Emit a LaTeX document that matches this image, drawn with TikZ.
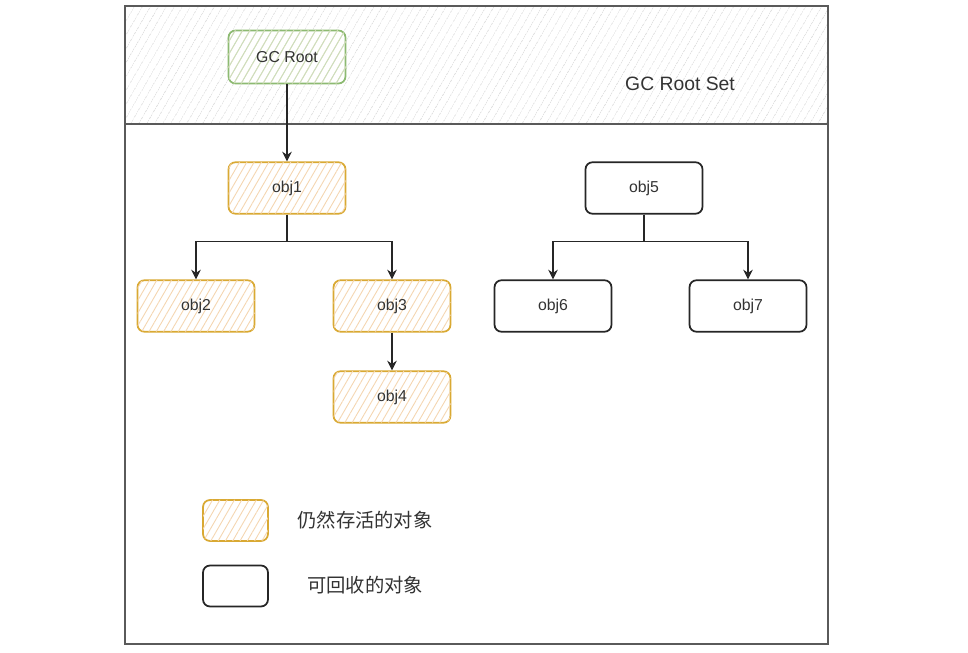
\documentclass[tikz,border=0pt]{standalone}
\usepackage{fontspec}
\setmainfont{Liberation Sans}
\newfontfamily\cjk{Noto Sans CJK SC}
\usepackage{tikz}
\usepackage{xcolor}
\usetikzlibrary{patterns.meta, positioning, arrows.meta}

\definecolor{liveline}{HTML}{D9A933}
\definecolor{livehatch}{HTML}{F5D6B0}
\definecolor{rootline}{HTML}{8DBA72}
\definecolor{roothatch}{HTML}{C8E0C0}
\definecolor{bandhatch}{HTML}{E0E0E0}
\definecolor{frameline}{HTML}{5A5A5A}
\definecolor{txt}{HTML}{333333}

\begin{document}
\begin{tikzpicture}[
        >={Stealth[length=5.5pt, width=5.5pt]},
        % Style for the objects that are still alive
        livebox/.style={rectangle, rounded corners=4pt, draw=liveline, line width=1pt,
            fill=white, postaction={pattern={Lines[angle=60, distance=3.6pt, line width=0.5pt]}, pattern color=livehatch},
            minimum width=2.34cm, minimum height=1.03cm, inner sep=0pt, text=txt, font=\small},
        % Style for the objects that can be collected
        deadbox/.style={rectangle, rounded corners=4pt, draw=black!85, line width=1pt, fill=white,
            minimum width=2.34cm, minimum height=1.03cm, inner sep=0pt, text=txt, font=\small},
        % Style for the root
        rootbox/.style={livebox, draw=rootline, postaction={pattern={Lines[angle=60, distance=3.6pt, line width=0.5pt]}, pattern color=roothatch}},
        link/.style={->, draw=black!85, line width=0.6pt},
        keytext/.style={text=txt, font=\cjk\fontsize{11}{13}\selectfont}
    ]
    \useasboundingbox (0,0) rectangle (19.36,-13.06);

    % --- Frame and root set band ---
    \path[pattern={Lines[angle=60, distance=4pt, line width=0.5pt]}, pattern color=bandhatch]
        (2.5,-0.12) rectangle (16.56,-2.48);
    \draw[frameline, line width=0.7pt] (2.5,-0.12) rectangle (16.56,-12.88);
    \draw[frameline, line width=0.9pt] (2.5,-2.48) -- (16.56,-2.48);
    \node[text=txt, font=\fontsize{11}{13}\selectfont] (rootset) at (13.6,-1.68) {GC Root Set};

    % --- Nodes ---
    \node[rootbox, minimum height=1.06cm] (root) at (5.74,-1.14) {GC Root};
    \node[livebox] (obj1) at (5.74,-3.76) {obj1};
    \node[livebox] (obj2) at (3.92,-6.12) {obj2};
    \node[livebox] (obj3) at (7.84,-6.12) {obj3};
    \node[livebox] (obj4) at (7.84,-7.94) {obj4};
    \node[deadbox] (obj5) at (12.88,-3.76) {obj5};
    \node[deadbox] (obj6) at (11.06,-6.12) {obj6};
    \node[deadbox] (obj7) at (14.96,-6.12) {obj7};

    % --- Connectors ---
    \draw[link] (root) -- (obj1);
    \draw[link] (obj1.south) -- ++(0,-0.54) -| (obj2);
    \draw[link] (obj1.south) -- ++(0,-0.54) -| (obj3);
    \draw[link] (obj3) -- (obj4);
    \draw[link] (obj5.south) -- ++(0,-0.54) -| (obj6);
    \draw[link] (obj5.south) -- ++(0,-0.54) -| (obj7);

    % --- Legend ---
    \node[livebox, minimum width=1.3cm, minimum height=0.82cm] (keylive) at (4.71,-10.41) {};
    \node[deadbox, minimum width=1.3cm, minimum height=0.82cm] (keydead) at (4.71,-11.72) {};
    \node[keytext] (keylivetext) at (7.3,-10.4) {仍然存活的对象};
    \node[keytext] (keydeadtext) at (7.3,-11.7) {可回收的对象};
\end{tikzpicture}
\end{document}
